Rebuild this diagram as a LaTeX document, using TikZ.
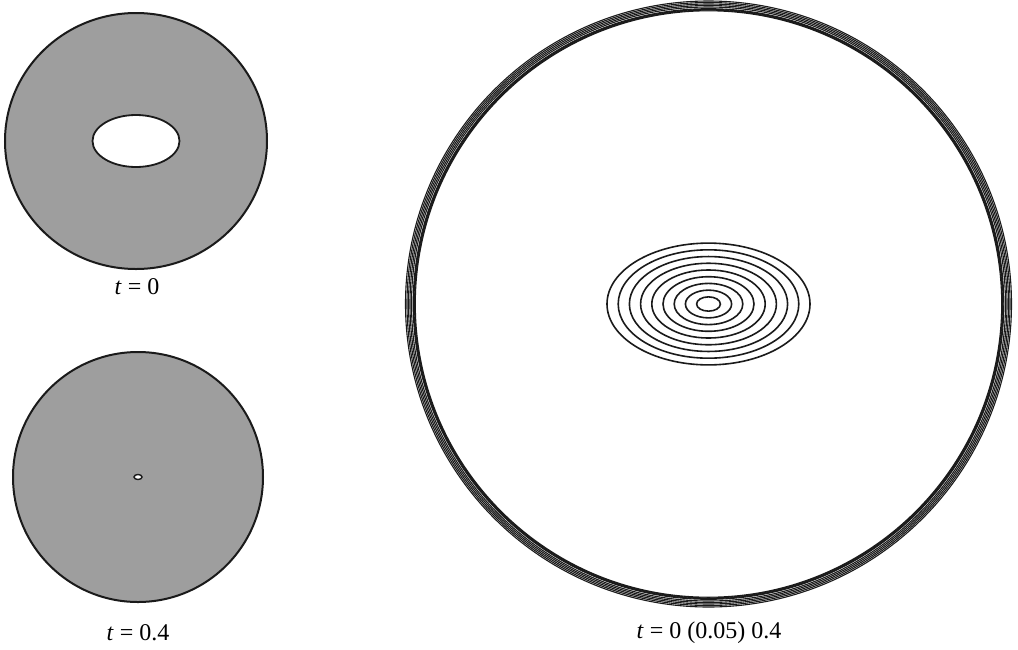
\documentclass[tikz,border=0pt]{standalone}
\usepackage{fontspec}
\setmainfont{Liberation Serif}
\usepackage{xcolor}
\definecolor{cInk}{HTML}{1A1A1A}
\definecolor{cFluid}{HTML}{9E9E9E}
\usetikzlibrary{positioning}
\tikzset{
  disk-fluid/.style={draw=cInk,line width=1pt,fill=cFluid},
  hole-rim/.style={draw=cInk,line width=0.9pt,fill=white},
  front-line/.style={draw=cInk,line width=0.8pt},
  rim-line/.style={draw=cInk,line width=0.55pt},
  time-label/.style={font=\fontsize{12}{14}\selectfont,inner sep=0pt},
}

\begin{document}
\begin{tikzpicture}[x=0.5pt,y=-0.5pt]
  \useasboundingbox (0,0) rectangle (1018,649);
  % t = 0
  \coordinate (c0) at (136,141);
  \draw[disk-fluid] (c0) ellipse[x radius=131,y radius=128];
  \draw[hole-rim]   (c0) ellipse[x radius=43.5,y radius=26];
  \node[time-label] (lab0) at (137,287) {\textit{t} = 0};
  % t = 0.4
  \coordinate (c4) at (138,477);
  \draw[disk-fluid] (c4) circle[radius=125];
  \draw[hole-rim,line width=0.7pt] (c4) ellipse[x radius=4,y radius=2.5];
  \node[time-label] (lab4) at (138,633) {\textit{t} = 0.4};
  % all times together
  \coordinate (cc) at (708.5,304);
  \foreach \r in {293.2,293.9,294.6,295.3,297,298.5,300,301.5,303}
    \draw[rim-line] (cc) circle[radius=\r];
  \foreach \k in {0,...,8}
    \draw[front-line] (cc) ellipse[x radius={101.5-11.2*\k},y radius={0.6*(101.5-11.2*\k)}];
  \node[time-label] (laball) at (709,633) {\textit{t} = 0 (0.05) 0.4};
\end{tikzpicture}
\end{document}
